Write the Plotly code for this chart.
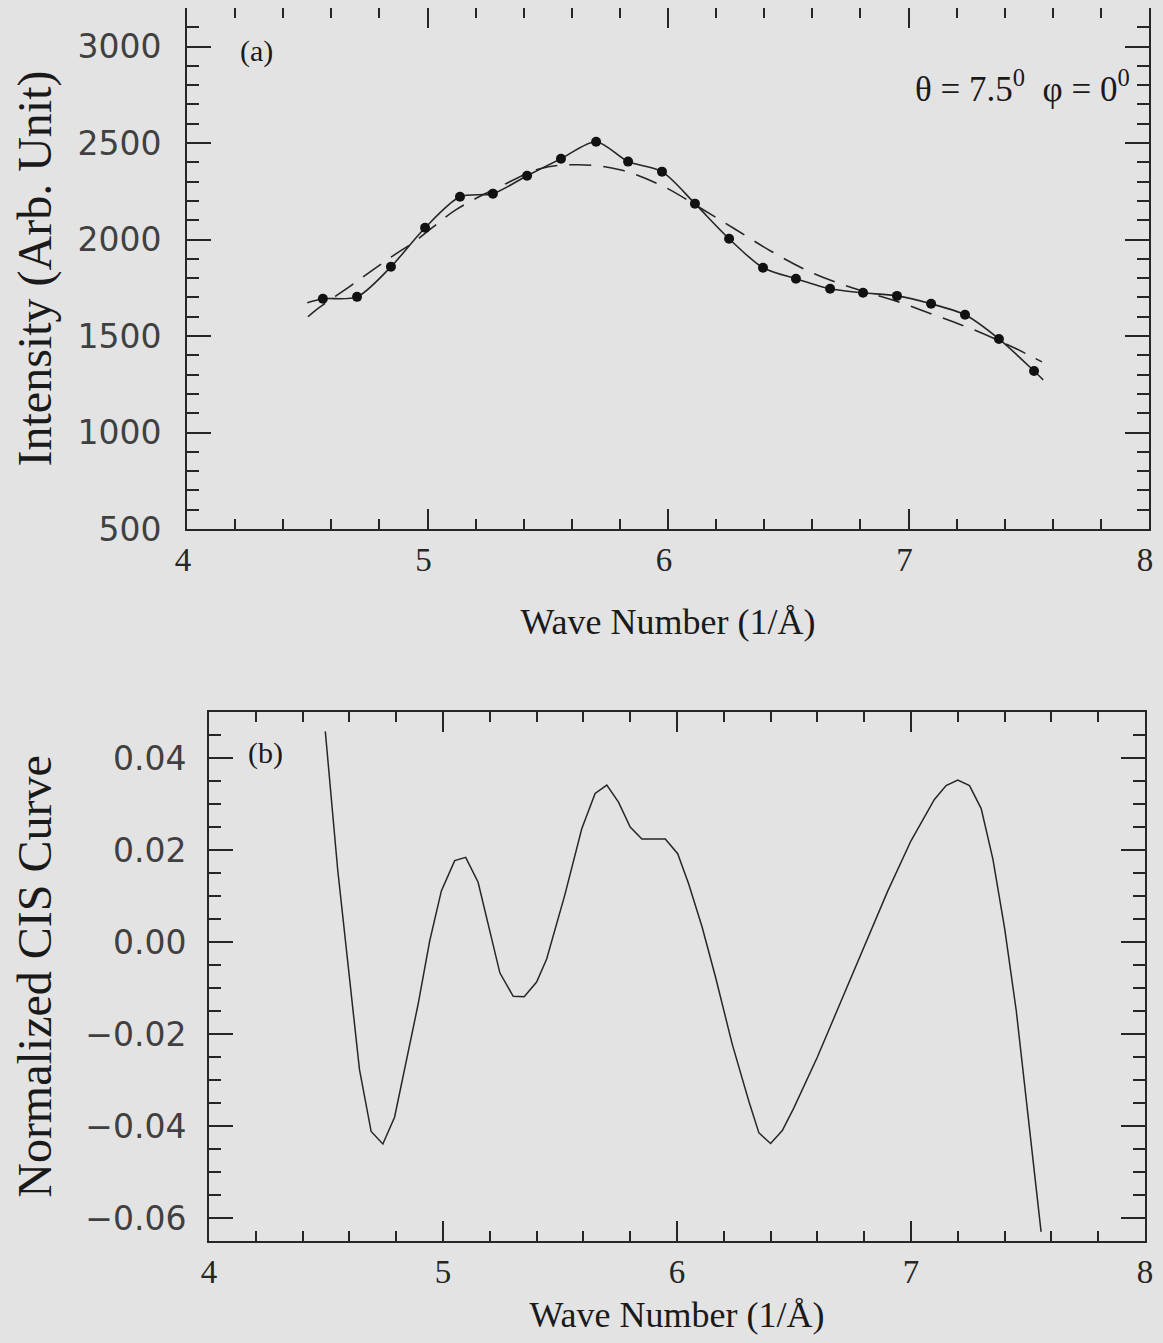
import plotly.graph_objects as go

# ---------------- Data: panel (a) ----------------
k_points = [4.565, 4.707, 4.848, 4.990, 5.135, 5.272, 5.414, 5.555, 5.701, 5.834, 5.975,
            6.112, 6.254, 6.395, 6.532, 6.674, 6.811, 6.952, 7.094, 7.235, 7.376, 7.522]
intensity_points = [1693, 1703, 1859, 2061, 2222, 2238, 2331, 2419, 2507, 2404, 2352,
                    2186, 2004, 1854, 1797, 1745, 1724, 1708, 1667, 1610, 1485, 1319]

# smooth solid curve through the data (extends slightly beyond first/last dot)
solid_k = [4.50, 4.565, 4.707, 4.848, 4.990, 5.135, 5.272, 5.414, 5.555, 5.701, 5.834, 5.975,
           6.112, 6.254, 6.395, 6.532, 6.674, 6.811, 6.952, 7.094, 7.235, 7.376, 7.522, 7.56]
solid_intensity = [1672, 1693, 1703, 1859, 2061, 2222, 2238, 2331, 2419, 2507, 2404, 2352,
                   2186, 2004, 1854, 1797, 1745, 1724, 1708, 1667, 1610, 1485, 1319, 1273]

# dashed smooth background curve
fit_k = [4.503, 4.532, 4.686, 4.832, 4.956, 5.119, 5.301, 5.468, 5.626, 5.800, 5.975,
         6.133, 6.283, 6.432, 6.590, 6.753, 6.931, 7.106, 7.272, 7.439, 7.555]
fit_intensity = [1600, 1631, 1765, 1895, 1999, 2155, 2274, 2367, 2388, 2362, 2279,
                 2165, 2051, 1937, 1833, 1755, 1688, 1610, 1532, 1439, 1366]

# ---------------- Data: panel (b) ----------------
cis_k = [4.497, 4.550, 4.643, 4.693, 4.743, 4.793, 4.893, 4.943, 4.993, 5.050, 5.097,
         5.150, 5.243, 5.300, 5.347, 5.400, 5.443, 5.521, 5.593, 5.650, 5.700, 5.750,
         5.800, 5.850, 5.950, 6.003, 6.050, 6.107, 6.164, 6.236, 6.307, 6.350, 6.400,
         6.450, 6.500, 6.600, 6.700, 6.800, 6.900, 7.000, 7.100, 7.150, 7.200, 7.250,
         7.300, 7.350, 7.400, 7.450, 7.500, 7.556]
cis_values = [0.0458, 0.0157, -0.0277, -0.0412, -0.0439, -0.0381, -0.0137, 0.0002, 0.0111,
              0.0177, 0.0184, 0.0130, -0.0067, -0.0118, -0.0119, -0.0087, -0.0037, 0.0103,
              0.0246, 0.0323, 0.0341, 0.0304, 0.0250, 0.0224, 0.0224, 0.0192, 0.0126, 0.0033,
              -0.0075, -0.0222, -0.0346, -0.0415, -0.0438, -0.0410, -0.0360, -0.0250, -0.0130,
              -0.0010, 0.0110, 0.0220, 0.0310, 0.0340, 0.0352, 0.0340, 0.0290, 0.0180, 0.0030,
              -0.0150, -0.0370, -0.0630]

# page has an 8px body margin: figure fits inside the window
OFF = 8
W, H = 1163 - 2 * OFF, 1343 - 2 * OFF
BG = "#e3e3e3"
INK = "#262626"
SERIF = "Liberation Serif, Times New Roman, serif"
SANS = "DejaVu Sans, sans-serif"


def dx(px):
    return (px - OFF) / W


def dy(py):
    return 1 - (py - OFF) / H


fig = go.Figure()

fig.add_trace(go.Scatter(x=fit_k, y=fit_intensity, mode="lines",
                         line=dict(color=INK, width=1.6, dash="22px,12px", shape="spline"),
                         xaxis="x", yaxis="y", showlegend=False))
fig.add_trace(go.Scatter(x=solid_k, y=solid_intensity, mode="lines",
                         line=dict(color=INK, width=1.6, shape="spline", smoothing=0.8),
                         xaxis="x", yaxis="y", showlegend=False))
fig.add_trace(go.Scatter(x=k_points, y=intensity_points, mode="markers",
                         marker=dict(color="#111111", size=10),
                         xaxis="x", yaxis="y", showlegend=False))
fig.add_trace(go.Scatter(x=cis_k, y=cis_values, mode="lines",
                         line=dict(color=INK, width=1.5),
                         xaxis="x2", yaxis="y2", showlegend=False))


def xax(domain, anchor, title_standoff, label_shift=0):
    return dict(domain=domain, anchor=anchor, range=[4, 8], tick0=4, dtick=1,
                ticks="inside", ticklen=20, tickwidth=1.5, tickcolor=INK,
                minor=dict(dtick=0.2, ticks="inside", ticklen=10, tickwidth=1.5,
                           tickcolor=INK, showgrid=False),
                showline=True, linecolor=INK, linewidth=2, mirror="ticks",
                showgrid=False, zeroline=False, automargin=False,
                tickfont=dict(family=SERIF, size=33, color=INK),
                ticklabelstandoff=0, ticklabelshift=label_shift,
                ticklabeloverflow="allow",
                title=dict(text="Wave Number (1/Å)",
                           font=dict(family=SERIF, size=36, color="#1a1a1a"),
                           standoff=title_standoff))


def yax(domain, anchor, rng, dtick, mdtick, title, label_standoff, title_standoff, fmt=None):
    d = dict(domain=domain, anchor=anchor, range=rng, tick0=0, dtick=dtick,
             ticks="inside", ticklen=24, tickwidth=1.5, tickcolor=INK,
             minor=dict(dtick=mdtick, ticks="inside", ticklen=12, tickwidth=1.5,
                        tickcolor=INK, showgrid=False),
             showline=True, linecolor=INK, linewidth=2, mirror="ticks",
             showgrid=False, zeroline=False, automargin=False,
             tickfont=dict(family=SANS, size=33, color="#404040"),
             ticklabelstandoff=label_standoff,
             title=dict(text=title, font=dict(family=SERIF, size=48, color="#1a1a1a"),
                        standoff=title_standoff))
    if fmt:
        d["tickformat"] = fmt
    return d


fig.update_layout(
    width=W, height=H,
    margin=dict(l=0, r=0, t=0, b=0),
    paper_bgcolor=BG, plot_bgcolor=BG,
    xaxis=xax([dx(187), dx(1149)], "y", 32, label_shift=-4),
    yaxis=yax([dy(529), dy(8)], "x", [500, 3200], 500, 100,
              "Intensity (Arb. Unit)", 17, 20),
    xaxis2=xax([dx(209), dx(1145)], "y2", 28),
    yaxis2=yax([dy(1241), dy(712)], "x2", [-0.065, 0.05], 0.02, 0.005,
               "Normalized CIS Curve", 14, 30, fmt=".2f"),
    annotations=[
        dict(text="(a)", x=0.072, y=0.918, xref="x domain", yref="y domain",
             xanchor="center", yanchor="middle",
             showarrow=False, font=dict(family=SERIF, size=30, color="#1a1a1a")),
        dict(text="θ = 7.5<sup>0</sup>  φ = 0<sup>0</sup>", x=0.868, y=0.85,
             xref="x domain", yref="y domain", xanchor="center", yanchor="middle",
             showarrow=False, font=dict(family=SERIF, size=35, color="#1a1a1a")),
        dict(text="(b)", x=0.060, y=0.922, xref="x2 domain", yref="y2 domain",
             xanchor="center", yanchor="middle",
             showarrow=False, font=dict(family=SERIF, size=30, color="#1a1a1a")),
    ],
)

fig.write_html("out.html",
               post_script="document.body.style.backgroundColor = '%s';" % BG)
